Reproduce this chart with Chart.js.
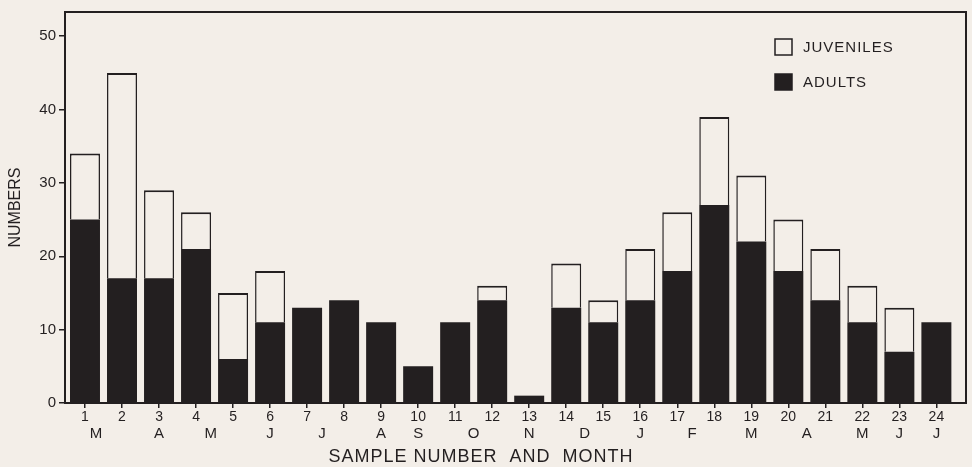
<!DOCTYPE html>
<html>
<head>
<meta charset="utf-8">
<script src="https://cdn.jsdelivr.net/npm/chart.js@4/dist/chart.umd.min.js"></script>
<style>
  html, body { margin: 0; padding: 0; background: #f3eee8; }
  #wrap { width: 972px; height: 467px; }
</style>
</head>
<body>
<div id="wrap"><canvas id="chart"></canvas></div>
<script>
// sample numbers and counts
var samples = [1, 2, 3, 4, 5, 6, 7, 8, 9, 10, 11, 12, 13, 14, 15, 16, 17, 18, 19, 20, 21, 22, 23, 24];
var adults = [25, 17, 17, 21, 6, 11, 13, 14, 11, 5, 11, 14, 1, 13, 11, 14, 18, 27, 22, 18, 14, 11, 7, 11];
var juveniles = [9, 28, 12, 5, 9, 7, 0, 0, 0, 0, 0, 2, 0, 6, 3, 7, 8, 12, 9, 7, 7, 5, 6, 0];

// month letters under the sample numbers (position in sample units)
var monthPos = [1.3, 3, 4.4, 6, 7.4, 9, 10, 11.5, 13, 14.5, 16, 17.4, 19, 20.5, 22, 23, 24];
var monthNames = ["M", "A", "M", "J", "J", "A", "S", "O", "N", "D", "J", "F", "M", "A", "M", "J", "J"];

var yTicks = [0, 10, 20, 30, 40, 50];

var ink = "#231f20";
var paper = "#f3eee8";
var font = "'Liberation Sans', Arial, sans-serif";

// frame: top and right edges too
var framePlugin = {
  id: "frame",
  afterDraw: function (chart) {
    var a = chart.chartArea;
    var ctx = chart.ctx;
    ctx.save();
    ctx.strokeStyle = ink;
    ctx.lineWidth = 2;
    ctx.strokeRect(a.left, a.top, a.right - a.left, a.bottom - a.top);
    ctx.restore();
  }
};

// legend inside the plot, top right
var legendPlugin = {
  id: "innerLegend",
  afterDraw: function (chart) {
    var a = chart.chartArea;
    var ctx = chart.ctx;
    var items = [chart.data.datasets[1], chart.data.datasets[0]];
    ctx.save();
    ctx.font = "15px " + font;
    ctx.letterSpacing = "1px";
    ctx.textBaseline = "middle";
    for (var i = 0; i < items.length; i++) {
      var x = a.right - 191;
      var y = a.top + 35 + i * 35;
      ctx.fillStyle = items[i].backgroundColor;
      ctx.fillRect(x, y - 8, 17, 16);
      ctx.strokeStyle = ink;
      ctx.lineWidth = 1.5;
      ctx.strokeRect(x, y - 8, 17, 16);
      ctx.fillStyle = ink;
      ctx.fillText(items[i].label, x + 28, y + 1);
    }
    ctx.restore();
  }
};

// x title, sits a bit left of centre in the original
var xTitlePlugin = {
  id: "xTitle",
  afterDraw: function (chart) {
    var ctx = chart.ctx;
    var sx = chart.scales.x;
    ctx.save();
    ctx.font = "18px " + font;
    ctx.letterSpacing = "1px";
    ctx.fillStyle = ink;
    ctx.textAlign = "center";
    ctx.textBaseline = "middle";
    ctx.fillText("SAMPLE NUMBER  AND  MONTH", sx.getPixelForValue(11.7), 457);
    ctx.restore();
  }
};

var ctx = document.getElementById("chart").getContext("2d");
var chart = new Chart(ctx, {
  type: "bar",
  data: {
    datasets: [
      {
        label: "ADULTS",
        data: samples.map(function (s, i) { return { x: s, y: adults[i] }; }),
        backgroundColor: ink,
        borderWidth: 0,
        barPercentage: 0.81,
        categoryPercentage: 1
      },
      {
        label: "JUVENILES",
        data: samples.map(function (s, i) { return { x: s, y: juveniles[i] || null }; }),
        backgroundColor: paper,
        borderColor: ink,
        borderWidth: { top: 2, left: 1.5, right: 1.5, bottom: 0 },
        borderSkipped: "bottom",
        barPercentage: 0.81,
        categoryPercentage: 1
      }
    ]
  },
  options: {
    responsive: true,
    maintainAspectRatio: false,
    animation: false,
    devicePixelRatio: 1,
    layout: { padding: { top: 7, right: 6, left: 0, bottom: 0 } },
    plugins: {
      legend: { display: false },
      tooltip: { enabled: false }
    },
    scales: {
      y: {
        type: "linear",
        min: 0,
        max: 53.3,
        stacked: true,
        afterBuildTicks: function (scale) {
          scale.ticks = yTicks.map(function (v) { return { value: v }; });
        },
        afterFit: function (scale) { scale.width = 65; },
        grid: { drawOnChartArea: false, tickLength: 6, color: ink, lineWidth: 1.5 },
        border: { color: ink, width: 2 },
        ticks: { color: ink, font: { family: font, size: 15 }, padding: 3 },
        title: { display: true, text: "NUMBERS", color: ink, font: { family: font, size: 16 }, padding: { top: 6, bottom: 0 } }
      },
      x: {
        type: "linear",
        min: 0.46,
        max: 24.8,
        offset: false,
        stacked: true,
        position: "bottom",
        afterBuildTicks: function (scale) {
          scale.ticks = samples.map(function (v) { return { value: v }; });
        },
        afterFit: function (scale) { scale.height = 21; },
        grid: { drawOnChartArea: false, offset: false, tickLength: 5, color: ink, lineWidth: 1.5 },
        border: { color: ink, width: 2 },
        ticks: { color: ink, font: { family: font, size: 14 }, padding: 1, maxRotation: 0, autoSkip: false }
      },
      months: {
        type: "linear",
        min: 0.46,
        max: 24.8,
        offset: false,
        position: "bottom",
        afterBuildTicks: function (scale) {
          scale.ticks = monthPos.map(function (v) { return { value: v }; });
        },
        afterFit: function (scale) { scale.height = 43; },
        grid: { display: false, offset: false },
        border: { display: false },
        ticks: {
          color: ink,
          font: { family: font, size: 15 },
          padding: -7,
          maxRotation: 0,
          autoSkip: false,
          callback: function (v, i) { return monthNames[i]; }
        }
      }
    }
  },
  plugins: [framePlugin, legendPlugin, xTitlePlugin]
});
</script>
</body>
</html>
